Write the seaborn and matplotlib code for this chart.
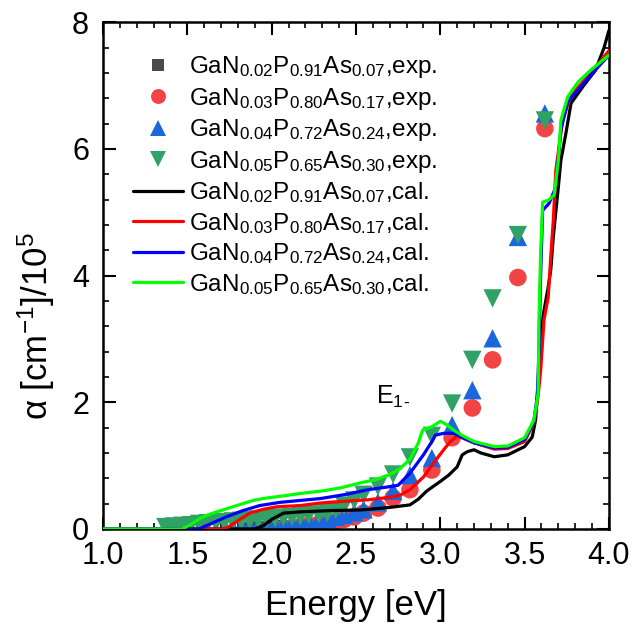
import numpy as np
import pandas as pd
import matplotlib
matplotlib.use("Agg")
import matplotlib.pyplot as plt
from matplotlib.lines import Line2D
from matplotlib.ticker import MultipleLocator, FormatStrFormatter
import seaborn as sns

# ---------------- experimental data ----------------
x_exp02 = [1.87, 1.92, 1.97, 2.02, 2.07, 2.12, 2.17]
y_exp02 = [0.00, 0.01, 0.02, 0.02, 0.03, 0.03, 0.04]

x_exp03 = [2.07, 2.12, 2.17, 2.22, 2.28, 2.33, 2.38, 2.43, 2.49, 2.545,
           2.63, 2.72, 2.82, 2.95, 3.07, 3.19, 3.31, 3.46, 3.62]
y_exp03 = [0.00, 0.02, 0.04, 0.06, 0.08, 0.10, 0.12, 0.15, 0.19, 0.25,
           0.33, 0.49, 0.62, 0.93, 1.44, 1.91, 2.67, 3.97, 6.32]

x_exp04 = [1.77, 1.82, 1.87, 1.92, 1.97, 2.02, 2.07, 2.12, 2.17, 2.22,
           2.28, 2.33, 2.38, 2.43, 2.49, 2.545, 2.63, 2.72, 2.82, 2.95,
           3.07, 3.19, 3.31, 3.46, 3.62]
y_exp04 = [0.01, 0.02, 0.03, 0.04, 0.05, 0.06, 0.07, 0.08, 0.10, 0.12,
           0.14, 0.16, 0.19, 0.22, 0.26, 0.31, 0.42, 0.60, 0.85, 1.12,
           1.64, 2.19, 3.01, 4.61, 6.56]

x_exp05 = [1.37, 1.42, 1.47, 1.52, 1.57, 1.62, 1.67, 1.72, 1.77, 1.82,
           1.87, 1.92, 1.97, 2.02, 2.07, 2.12, 2.17, 2.22, 2.28, 2.33,
           2.38, 2.43, 2.49, 2.545, 2.63, 2.72, 2.82, 2.95, 3.07, 3.19,
           3.31, 3.46, 3.62]
y_exp05 = [0.03, 0.04, 0.05, 0.06, 0.08, 0.09, 0.10, 0.11, 0.12, 0.13,
           0.14, 0.15, 0.16, 0.17, 0.18, 0.19, 0.20, 0.22, 0.23, 0.25,
           0.30, 0.37, 0.45, 0.54, 0.67, 0.86, 1.13, 1.47, 1.98, 2.67,
           3.64, 4.64, 6.45]

# ---------------- calculated curves ----------------
x_cal02 = [1.0, 1.90, 1.95, 2.00, 2.07, 2.17, 2.35, 2.53, 2.70, 2.82, 2.87,
           2.92, 3.00, 3.05, 3.10, 3.13, 3.16, 3.20, 3.24, 3.32, 3.40, 3.50,
           3.545, 3.565, 3.58, 3.595, 3.615, 3.64, 3.655, 3.67, 3.70, 3.715,
           3.745, 3.775, 3.85, 3.92, 3.97, 4.0]
y_cal02 = [0.0, 0.0, 0.05, 0.15, 0.25, 0.27, 0.29, 0.30, 0.34, 0.38, 0.47,
           0.60, 0.75, 0.85, 0.98, 1.17, 1.22, 1.25, 1.20, 1.14, 1.17, 1.30,
           1.45, 1.72, 2.30, 3.03, 3.45, 3.82, 4.09, 4.61, 5.40, 5.82,
           6.25, 6.72, 7.00, 7.24, 7.59, 7.87]

x_cal03 = [1.0, 1.72, 1.76, 1.80, 1.87, 1.95, 2.03, 2.17, 2.29, 2.45, 2.57,
           2.70, 2.76, 2.82, 2.90, 2.96, 3.02, 3.06, 3.10, 3.20, 3.32, 3.40,
           3.50, 3.555, 3.58, 3.595, 3.615, 3.64, 3.655, 3.67, 3.685, 3.725,
           3.775, 3.89, 4.0]
y_cal03 = [0.0, 0.0, 0.06, 0.13, 0.25, 0.31, 0.35, 0.37, 0.41, 0.44, 0.46,
           0.50, 0.53, 0.62, 0.82, 1.04, 1.25, 1.38, 1.47, 1.36, 1.26, 1.27,
           1.38, 1.68, 2.10, 2.50, 3.30, 3.66, 4.30, 4.87, 5.66, 6.45,
           6.85, 7.19, 7.55]

x_cal04 = [1.0, 1.57, 1.62, 1.68, 1.74, 1.83, 1.93, 2.05, 2.17, 2.29, 2.45,
           2.57, 2.68, 2.75, 2.82, 2.90, 2.955, 2.97, 3.02, 3.08, 3.12, 3.20,
           3.32, 3.40, 3.50, 3.555, 3.575, 3.585, 3.595, 3.607, 3.645, 3.685,
           3.715, 3.755, 3.89, 4.0]
y_cal04 = [0.0, 0.0, 0.06, 0.13, 0.20, 0.29, 0.37, 0.42, 0.45, 0.48, 0.55,
           0.62, 0.66, 0.69, 0.88, 1.17, 1.40, 1.48, 1.51, 1.51, 1.46, 1.36,
           1.28, 1.29, 1.41, 1.70, 2.10, 2.78, 4.00, 5.03, 5.14, 5.40,
           6.30, 6.74, 7.16, 7.48]

x_cal05 = [1.0, 1.47, 1.52, 1.576, 1.65, 1.77, 1.89, 1.95, 2.09, 2.17, 2.30,
           2.41, 2.53, 2.62, 2.70, 2.76, 2.82, 2.87, 2.895, 2.955, 3.00, 3.03,
           3.08, 3.12, 3.20, 3.32, 3.40, 3.50, 3.555, 3.58, 3.585, 3.595,
           3.607, 3.64, 3.675, 3.70, 3.715, 3.755, 3.815, 3.89, 4.0]
y_cal05 = [0.0, 0.0, 0.07, 0.17, 0.25, 0.35, 0.45, 0.48, 0.53, 0.56, 0.60,
           0.65, 0.73, 0.78, 0.86, 0.95, 1.10, 1.36, 1.56, 1.62, 1.70, 1.66,
           1.56, 1.49, 1.38, 1.30, 1.31, 1.44, 1.72, 2.14, 3.30, 4.36,
           5.16, 5.19, 5.27, 5.82, 6.45, 6.82, 7.05, 7.24, 7.48]

labels_exp = [r"GaN$_{0.02}$P$_{0.91}$As$_{0.07}$,exp.",
              r"GaN$_{0.03}$P$_{0.80}$As$_{0.17}$,exp.",
              r"GaN$_{0.04}$P$_{0.72}$As$_{0.24}$,exp.",
              r"GaN$_{0.05}$P$_{0.65}$As$_{0.30}$,exp."]
labels_cal = [r"GaN$_{0.02}$P$_{0.91}$As$_{0.07}$,cal.",
              r"GaN$_{0.03}$P$_{0.80}$As$_{0.17}$,cal.",
              r"GaN$_{0.04}$P$_{0.72}$As$_{0.24}$,cal.",
              r"GaN$_{0.05}$P$_{0.65}$As$_{0.30}$,cal."]

# ---------------- style ----------------
sns.set_theme(style="ticks")
plt.rcParams["font.family"] = ["Liberation Sans", "DejaVu Sans"]
plt.rcParams["mathtext.fontset"] = "custom"
plt.rcParams["mathtext.rm"] = "Liberation Sans"
plt.rcParams["mathtext.it"] = "Liberation Sans:italic"
plt.rcParams["mathtext.bf"] = "Liberation Sans:bold"
plt.rcParams["text.color"] = "black"
plt.rcParams["axes.labelcolor"] = "black"
plt.rcParams["xtick.color"] = "black"
plt.rcParams["ytick.color"] = "black"

exp_colors = ["#4a4a4a", "#f24444", "#1c66dc", "#31a265"]
exp_markers = ["s", "o", "^", "v"]
exp_sizes = [100, 160, 175, 175]
cal_colors = ["#000000", "#ff0000", "#0000ff", "#00ff00"]

fig = plt.figure(figsize=(6.33, 6.35), dpi=100)
ax = fig.add_axes([0.1627, 0.167, 0.7993, 0.798])

exp_sets = [(x_exp02, y_exp02), (x_exp03, y_exp03), (x_exp04, y_exp04), (x_exp05, y_exp05)]
for (xs, ys), c, m, s in zip(exp_sets, exp_colors, exp_markers, exp_sizes):
    df = pd.DataFrame({"E": xs, "a": ys})
    sns.scatterplot(data=df, x="E", y="a", ax=ax, color=c, marker=m, s=s,
                    edgecolor="none", linewidth=0, zorder=2, legend=False)

cal_sets = [(x_cal02, y_cal02), (x_cal03, y_cal03), (x_cal04, y_cal04), (x_cal05, y_cal05)]
for (xs, ys), c in zip(cal_sets, cal_colors):
    df = pd.DataFrame({"E": xs, "a": ys})
    sns.lineplot(data=df, x="E", y="a", ax=ax, color=c, lw=2.3,
                 estimator=None, sort=False, zorder=3, legend=False)

ax.set_xlim(1.0, 4.0)
ax.set_ylim(0, 8)
ax.xaxis.set_major_locator(MultipleLocator(0.5))
ax.xaxis.set_minor_locator(MultipleLocator(0.1))
ax.yaxis.set_major_locator(MultipleLocator(2))
ax.yaxis.set_minor_locator(MultipleLocator(0.4))
ax.xaxis.set_major_formatter(FormatStrFormatter("%.1f"))
ax.yaxis.set_major_formatter(FormatStrFormatter("%d"))
ax.tick_params(which="both", direction="in", top=True, right=True,
               labelsize=22, colors="black")
ax.tick_params(axis="x", which="major", pad=9)
ax.tick_params(axis="y", which="major", pad=10)
ax.tick_params(which="major", length=9, width=1.5)
ax.tick_params(which="minor", length=4.5, width=1.2)
for sp in ax.spines.values():
    sp.set_linewidth(1.8)
    sp.set_color("black")

ax.set_xlabel("Energy [eV]", fontsize=25, color="black")
ax.xaxis.set_label_coords(0.5, -0.118)
ax.set_ylabel(r"α [cm$^{-1}$]/10$^{5}$", fontsize=25, color="black")
ax.yaxis.set_label_coords(-0.09, 0.40)

ax.text(2.62, 2.08, r"E$_{\mathrm{1}}$$_{\text{-}}$", fontsize=18,
        ha="left", va="center", color="black")

handles = []
for c, m, s in zip(exp_colors, exp_markers, exp_sizes):
    handles.append(Line2D([], [], ls="none", marker=m, color=c,
                          markersize=np.sqrt(s) * 0.85, markeredgewidth=0))
for c in cal_colors:
    handles.append(Line2D([], [], color=c, lw=2.3))
leg = ax.legend(handles, labels_exp + labels_cal, loc="upper left",
                bbox_to_anchor=(0.059, 0.937), frameon=False, fontsize=17.5,
                handlelength=2.05, handletextpad=0.25, labelspacing=0.23,
                borderaxespad=0, borderpad=0, labelcolor="black")

fig.savefig("out.png", dpi=100)
